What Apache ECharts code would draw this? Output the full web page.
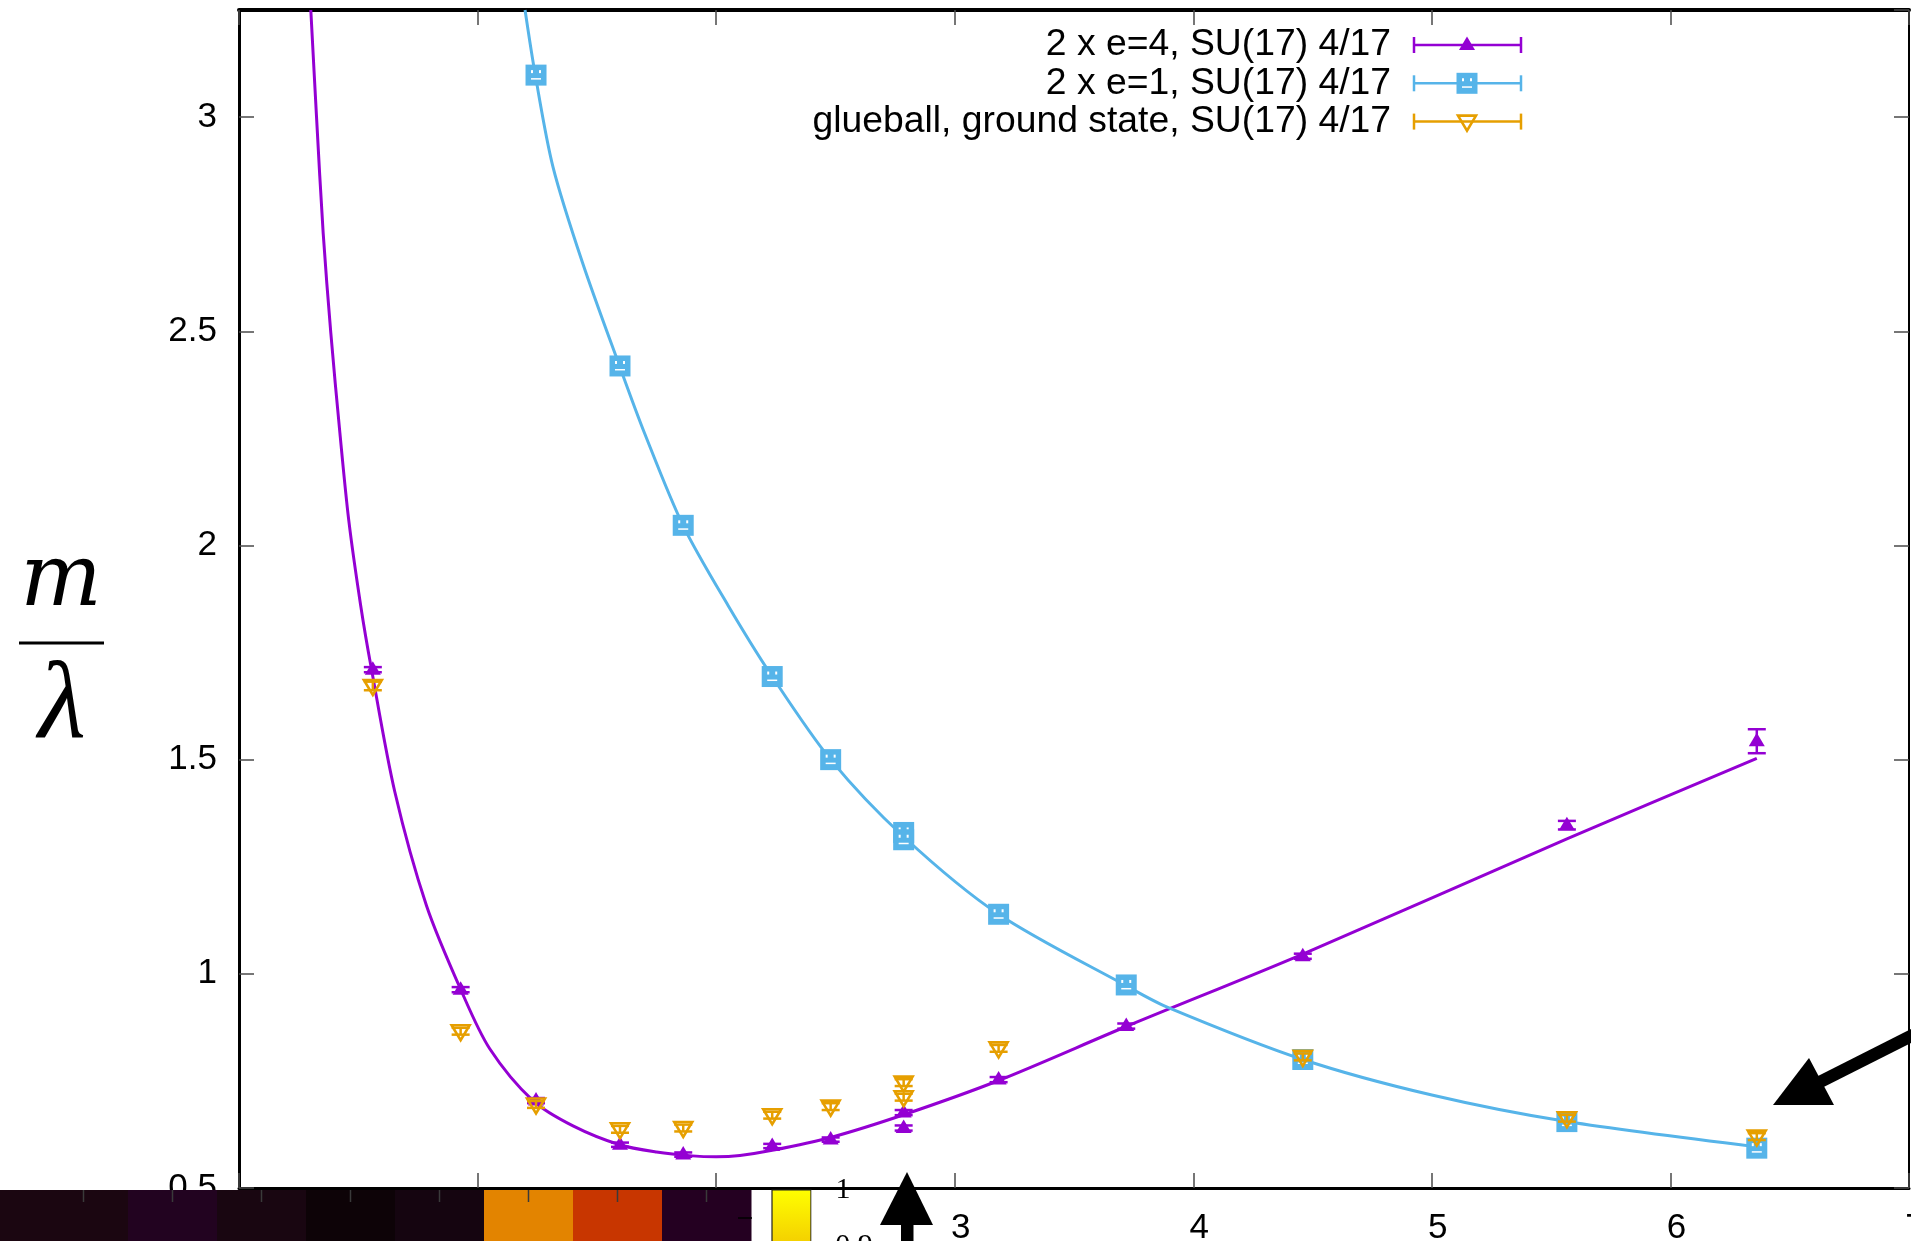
<!DOCTYPE html>
<html><head><meta charset="utf-8">
<script src="https://cdn.jsdelivr.net/npm/echarts@6/dist/echarts.min.js"></script>
<style>html,body{margin:0;padding:0;background:#fff;overflow:hidden}#c{width:1911px;height:1241px}</style>
</head><body><div id="c"></div><script>
// ---------------- data ----------------
const seriesNames = ['2 x e=4, SU(17) 4/17', '2 x e=1, SU(17) 4/17', 'glueball, ground state, SU(17) 4/17'];

const e4X   = [0.561, 0.929, 1.245, 1.597, 1.862, 2.235, 2.480, 2.786, 2.786, 3.184, 3.719, 4.459, 5.566, 6.362];
const e4Y   = [1.710, 0.963, 0.704, 0.601, 0.578, 0.598, 0.613, 0.676, 0.640, 0.753, 0.878, 1.041, 1.347, 1.543];
const e4Err = [0.006, 0.006, 0.006, 0.005, 0.005, 0.005, 0.005, 0.006, 0.006, 0.006, 0.006, 0.006, 0.010, 0.028];

const e1X   = [1.245, 1.597, 1.862, 2.235, 2.480, 2.786, 2.786, 3.184, 3.719, 4.459, 5.566, 6.362];
const e1Y   = [3.098, 2.419, 2.047, 1.694, 1.500, 1.330, 1.313, 1.139, 0.974, 0.800, 0.655, 0.593];
const e1Err = [0.006, 0.006, 0.006, 0.006, 0.006, 0.006, 0.006, 0.005, 0.005, 0.005, 0.005, 0.005];

const gbX   = [0.561, 0.929, 1.245, 1.597, 1.862, 2.235, 2.480, 2.786, 2.786, 3.184, 4.459, 5.566, 6.362];
const gbY   = [1.672, 0.866, 0.695, 0.637, 0.640, 0.670, 0.690, 0.746, 0.712, 0.826, 0.806, 0.663, 0.620];
const gbErr = [0.010, 0.008, 0.008, 0.008, 0.008, 0.008, 0.008, 0.008, 0.008, 0.008, 0.008, 0.008, 0.008];

// fitted curves
const fitE4X = [0.301, 0.325, 0.353, 0.385, 0.423, 0.460, 0.510, 0.555, 0.653, 0.786, 0.932, 1.051, 1.232, 1.400, 1.595, 1.750, 1.900, 2.000, 2.100, 2.235, 2.480, 2.786, 3.184, 3.719, 4.459, 5.566, 6.362];
const fitE4Y = [3.250, 3.000, 2.728, 2.495, 2.262, 2.059, 1.860, 1.712, 1.425, 1.159, 0.960, 0.825, 0.704, 0.645, 0.601, 0.584, 0.575, 0.573, 0.576, 0.588, 0.618, 0.671, 0.751, 0.877, 1.046, 1.315, 1.503];

const fitE1X = [1.199, 1.242, 1.316, 1.440, 1.595, 1.700, 1.861, 2.050, 2.235, 2.480, 2.786, 3.184, 3.719, 3.888, 4.459, 5.000, 5.566, 6.362];
const fitE1Y = [3.250, 3.098, 2.884, 2.660, 2.419, 2.262, 2.047, 1.860, 1.694, 1.500, 1.320, 1.139, 0.972, 0.923, 0.800, 0.717, 0.655, 0.596];

const colorbarLabels = ['1', '0.9'];
const stripColors = ['#1b0611', '#1b0611', '#220320', '#190611', '#0d0307', '#150510', '#e38400', '#c83600', '#240021'];

// ---------------- styles ----------------
const PURPLE = '#9400d3', BLUE = '#56b4e9', ORANGE = '#e69f00';
const SANS = '"Liberation Sans", Arial, Helvetica, sans-serif';
const SERIF = '"Liberation Serif", "Times New Roman", serif';
const DSERIF = '"DejaVu Serif", serif';

function errBarEls(cx, yt, yb, color) {
  const lw = 2.5;
  return [
    {type: 'line', shape: {x1: cx, y1: yt, x2: cx, y2: yb}, style: {stroke: color, lineWidth: lw}},
    {type: 'line', shape: {x1: cx - 9, y1: yt, x2: cx + 9, y2: yt}, style: {stroke: color, lineWidth: lw}},
    {type: 'line', shape: {x1: cx - 9, y1: yb, x2: cx + 9, y2: yb}, style: {stroke: color, lineWidth: lw}}
  ];
}
function triUpEls(cx, cy, color) {
  return [{type: 'polygon', shape: {points: [[cx - 8, cy + 5], [cx + 8, cy + 5], [cx, cy - 8.5]]}, style: {fill: color}}];
}
function squareEls(cx, cy, color) {
  return [
    {type: 'rect', shape: {x: cx - 10.5, y: cy - 10.5, width: 21, height: 21}, style: {fill: color}},
    {type: 'rect', shape: {x: cx - 5, y: cy - 5, width: 2, height: 3}, style: {fill: '#fff'}},
    {type: 'rect', shape: {x: cx + 3, y: cy - 5, width: 2, height: 3}, style: {fill: '#fff'}},
    {type: 'rect', shape: {x: cx - 5, y: cy + 3, width: 10, height: 1.5}, style: {fill: '#fff'}}
  ];
}
function triDownEls(cx, cy, color) {
  return [{type: 'polygon', shape: {points: [[cx - 9, cy - 6], [cx + 9, cy - 6], [cx, cy + 9]]}, style: {fill: 'none', stroke: color, lineWidth: 2.6}}];
}
function makeRender(markFn, color) {
  return function (params, api) {
    const x = api.value(0), y = api.value(1), e = api.value(2);
    const p = api.coord([x, y]), t = api.coord([x, y + e]), b = api.coord([x, y - e]);
    return {type: 'group', children: errBarEls(p[0], t[1], b[1], color).concat(markFn(p[0], p[1], color))};
  };
}
function zip3(a, b, c) { return a.map((v, i) => [v, b[i], c[i]]); }
function zip2(a, b) { return a.map((v, i) => [v, b[i]]); }

// ---------------- graphic overlays ----------------
const G = [];
function add(el) { el.z = 100; G.push(el); }
function txt(x, y, text, font, align, valign) {
  add({type: 'text', x: x, y: y, style: {text: text, font: font, fill: '#000',
    textAlign: align, textVerticalAlign: valign, align: align, verticalAlign: valign}});
}
// y-axis title m / lambda
txt(61, 583, 'm', 'italic 86px ' + DSERIF, 'center', 'middle');
add({type: 'line', shape: {x1: 19, y1: 643, x2: 104, y2: 643}, style: {stroke: '#000', lineWidth: 3}});
txt(62, 708, 'λ', 'italic 110px ' + SERIF, 'center', 'middle');

// legend
const markFns = [triUpEls, squareEls, triDownEls];
const legColors = [PURPLE, BLUE, ORANGE];
seriesNames.forEach((name, i) => {
  const y = 45 + i * 38.3;
  txt(1391, y, name, '37.3px ' + SANS, 'right', 'middle');
  const c = legColors[i];
  add({type: 'line', shape: {x1: 1414, y1: y, x2: 1521, y2: y}, style: {stroke: c, lineWidth: 2.5}});
  add({type: 'line', shape: {x1: 1414, y1: y - 8, x2: 1414, y2: y + 8}, style: {stroke: c, lineWidth: 2.5}});
  add({type: 'line', shape: {x1: 1521, y1: y - 8, x2: 1521, y2: y + 8}, style: {stroke: c, lineWidth: 2.5}});
  markFns[i](1467, y, c).forEach(el => add(el));
});

// overlapping strip at the bottom left
stripColors.forEach((col, i) => {
  const x0 = -50 + i * 89;
  add({type: 'rect', shape: {x: x0, y: 1190, width: 89.5, height: 60}, style: {fill: col}});
  if (i > 0) add({type: 'line', shape: {x1: x0 + 44.5, y1: 1190, x2: x0 + 44.5, y2: 1202}, style: {stroke: '#3a3a3a', lineWidth: 1.5}});
});
add({type: 'line', shape: {x1: 738, y1: 1218, x2: 752, y2: 1218}, style: {stroke: '#000', lineWidth: 1.5}});
add({type: 'rect', shape: {x: 752, y: 1190, width: 20, height: 60}, style: {fill: '#fff'}});
// colorbar piece
add({type: 'rect', shape: {x: 772, y: 1190, width: 39, height: 70},
  style: {fill: {type: 'linear', x: 0, y: 0, x2: 0, y2: 1, colorStops: [{offset: 0, color: '#ffff00'}, {offset: 1, color: '#f0c000'}]}, stroke: '#222', lineWidth: 1.2}});
add({type: 'rect', shape: {x: 811.5, y: 1190, width: 60, height: 60}, style: {fill: '#fff'}});
txt(843, 1190, colorbarLabels[0], '30px ' + SERIF, 'center', 'middle');
txt(854, 1246, colorbarLabels[1], '30px ' + SERIF, 'center', 'middle');
// up arrow
add({type: 'polygon', shape: {points: [[907, 1172], [880, 1225], [933, 1225]]}, style: {fill: '#000'}});
add({type: 'rect', shape: {x: 901, y: 1222, width: 12.5, height: 30}, style: {fill: '#000'}});
// diagonal arrow at the right
add({type: 'line', shape: {x1: 1808, y1: 1088, x2: 1935, y2: 1024}, style: {stroke: '#000', lineWidth: 12.5}});
add({type: 'polygon', shape: {points: [[1773, 1105], [1809, 1058], [1834, 1105]]}, style: {fill: '#000'}});

// ---------------- chart ----------------
const tick = {show: true, inside: true, length: 15, lineStyle: {color: '#4a4a4a', width: 1.5}};
const label = {color: '#000', fontSize: 35, fontFamily: SANS};
const chart = echarts.init(document.getElementById('c'), null, {renderer: 'canvas'});
chart.setOption({
  animation: false,
  backgroundColor: '#fff',
  grid: {left: 239, right: 2, top: 10, bottom: 53, containLabel: false, outerBoundsMode: 'none'},
  xAxis: [
    {type: 'value', min: 0, max: 7, interval: 1, position: 'bottom',
     axisLine: {show: true, onZero: false, lineStyle: {color: '#000', width: 3}},
     axisTick: tick, splitLine: {show: false},
     axisLabel: Object.assign({margin: 23, hideOverlap: false, padding: [0, 0, 0, 12]}, label)},
    {type: 'value', min: 0, max: 7, interval: 1, position: 'top',
     axisLine: {show: true, onZero: false, lineStyle: {color: '#000', width: 4}},
     axisTick: tick, splitLine: {show: false}, axisLabel: {show: false}}
  ],
  yAxis: [
    {type: 'value', min: 0.5, max: 3.25, interval: 0.5, position: 'left',
     axisLine: {show: true, onZero: false, lineStyle: {color: '#000', width: 3}},
     axisTick: tick, splitLine: {show: false},
     axisLabel: Object.assign({margin: 22, showMaxLabel: false}, label)},
    {type: 'value', min: 0.5, max: 3.25, interval: 0.5, position: 'right',
     axisLine: {show: true, onZero: false, lineStyle: {color: '#000', width: 2}},
     axisTick: tick, splitLine: {show: false}, axisLabel: {show: false}}
  ],
  series: [
    {type: 'line', name: 'fit e4', data: zip2(fitE4X, fitE4Y), smooth: 0.3, showSymbol: false, z: 2,
     lineStyle: {color: PURPLE, width: 3}, clip: true},
    {type: 'custom', name: seriesNames[0], data: zip3(e4X, e4Y, e4Err), encode: {x: 0, y: 1},
     renderItem: makeRender(triUpEls, PURPLE), z: 3},
    {type: 'line', name: 'fit e1', data: zip2(fitE1X, fitE1Y), smooth: 0.3, showSymbol: false, z: 2,
     lineStyle: {color: BLUE, width: 3}, clip: true},
    {type: 'custom', name: seriesNames[1], data: zip3(e1X, e1Y, e1Err), encode: {x: 0, y: 1},
     renderItem: makeRender(squareEls, BLUE), z: 4},
    {type: 'custom', name: seriesNames[2], data: zip3(gbX, gbY, gbErr), encode: {x: 0, y: 1},
     renderItem: makeRender(triDownEls, ORANGE), z: 5}
  ],
  graphic: {elements: G}
});
</script></body></html>
